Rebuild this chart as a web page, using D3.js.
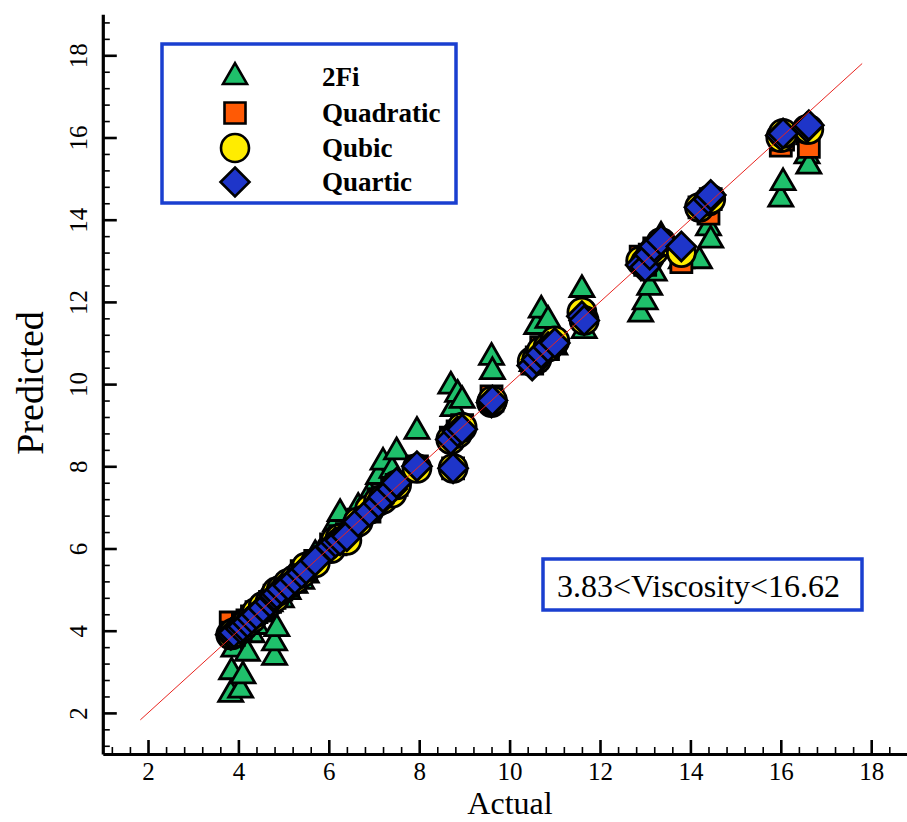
<!DOCTYPE html>
<html>
<head>
<meta charset="utf-8">
<script src="https://cdn.jsdelivr.net/npm/d3@7"></script>
<style>
  html, body { margin: 0; padding: 0; background: #fff; }
  svg { display: block; }
</style>
</head>
<body>
<svg id="chart" width="907" height="822"></svg>
<script>
// ---------------- data ----------------
const actual = [3.83, 3.85, 3.9, 4.05, 4.1, 4.2, 4.3, 4.4, 4.55, 4.7,
  4.8, 4.8, 4.85, 4.95, 5.1, 5.25, 5.4, 5.5, 5.7, 6.05,
  6.15, 6.25, 6.4, 6.65, 6.9, 7.1, 7.2, 7.4, 7.5, 7.95,
  8.7, 8.75, 8.85, 8.95, 9.6, 9.62, 10.5, 10.6, 10.7, 10.85,
  11.0, 11.6, 11.65, 12.9, 13.0, 13.1, 13.2, 13.35, 13.8, 14.2,
  14.4, 14.45, 16.0, 16.05, 16.58, 16.62];
const pred2Fi = [2.45, 3.0, 3.55, 2.55, 2.9, 3.45, 3.9, 4.1, 4.4, 4.65,
  3.35, 3.7, 4.05, 4.75, 4.95, 5.1, 5.2, 5.35, 5.85, 6.2,
  6.6, 6.85, 6.5, 7.0, 7.3, 7.75, 8.1, 7.9, 8.35, 8.85,
  9.95, 9.4, 9.75, 9.6, 10.65, 10.3, 10.5, 11.4, 11.8, 11.55,
  10.9, 12.3, 11.3, 11.7, 12.0, 12.35, 12.7, 13.6, 13.0, 13.0,
  13.8, 13.5, 14.5, 14.9, 15.55, 15.3];
const predQuadratic = [4.2, 3.95, 3.9, 4.0, 4.15, 4.25, 4.35, 4.45, 4.55, 4.7,
  4.8, 4.85, 4.9, 5.0, 5.1, 5.2, 5.45, 5.5, 5.7, 6.1,
  6.1, 6.3, 6.35, 6.7, 6.9, 7.2, 7.25, 7.45, 7.55, 8.0,
  8.7, 7.95, 8.85, 9.0, 9.7, 9.6, 10.5, 10.65, 10.9, 10.85,
  11.0, 11.7, 11.6, 13.1, 12.9, 13.15, 13.3, 13.4, 12.97, 14.3,
  14.15, 14.5, 15.8, 15.95, 16.1, 15.77];
const predQubic = [3.9, 3.9, 3.95, 4.05, 4.1, 4.2, 4.3, 4.45, 4.6, 4.7,
  4.85, 4.8, 4.95, 5.0, 5.15, 5.25, 5.4, 5.55, 5.65, 6.0,
  6.2, 6.25, 6.2, 6.65, 6.95, 7.15, 7.2, 7.35, 7.55, 7.95,
  8.65, 7.95, 8.8, 8.95, 9.55, 9.6, 10.55, 10.6, 10.8, 10.9,
  11.05, 11.75, 11.55, 13.0, 12.95, 13.1, 13.25, 13.45, 13.2, 14.3,
  14.45, 14.5, 16.0, 16.1, 16.2, 16.2];
const predQuartic = [3.9, 3.92, 3.95, 4.05, 4.1, 4.2, 4.3, 4.4, 4.55, 4.7,
  4.8, 4.85, 4.9, 5.0, 5.1, 5.25, 5.4, 5.5, 5.7, 6.05,
  6.15, 6.2, 6.3, 6.65, 6.9, 7.1, 7.25, 7.45, 7.6, 8.0,
  8.65, 7.95, 8.85, 8.9, 9.55, 9.6, 10.45, 10.6, 10.75, 10.9,
  11.0, 11.65, 11.55, 12.9, 12.85, 13.15, 13.35, 13.5, 13.35, 14.3,
  14.5, 14.6, 16.05, 16.1, 16.25, 16.3];
const seriesNames = ["2Fi", "Quadratic", "Qubic", "Quartic"];
const majorTicks = [2, 4, 6, 8, 10, 12, 14, 16, 18];
const axisDomain = [1, 19];
const fitLine = [1.83, 17.8];
const rangeLabel = "3.83<Viscosity<16.62";
const xTitle = "Actual";
const yTitle = "Predicted";

// ---------------- drawing ----------------
const svg = d3.select("#chart");
const W = 907, H = 822;
svg.append("rect").attr("width", W).attr("height", H).attr("fill", "#fff");

const x = d3.scaleLinear().domain(axisDomain).range([102.8, 916.4]);
const y = d3.scaleLinear().domain(axisDomain).range([754, 14.2]);

const minorTicks = d3.range(1.2, 18.81, 0.4).map(v => +v.toFixed(1))
  .filter(v => Math.abs(v - Math.round(v)) > 1e-6 || Math.round(v) % 2 !== 0);

const serif = "'Liberation Serif', 'Times New Roman', serif";

// minor ticks
const gxMinor = svg.append("g").attr("transform", `translate(0,${y(1)})`)
  .call(d3.axisBottom(x).tickValues(minorTicks).tickSize(-7).tickFormat(""));
const gyMinor = svg.append("g").attr("transform", `translate(${x(1)},0)`)
  .call(d3.axisLeft(y).tickValues(minorTicks).tickSize(-7).tickFormat(""));
[gxMinor, gyMinor].forEach(g => {
  g.select(".domain").remove();
  g.selectAll(".tick line").attr("stroke", "#000").attr("stroke-width", 1.6);
});

// major ticks
const gx = svg.append("g").attr("transform", `translate(0,${y(1)})`)
  .call(d3.axisBottom(x).tickValues(majorTicks).tickSize(-14).tickSizeOuter(0).tickFormat(d3.format("d")));
const gy = svg.append("g").attr("transform", `translate(${x(1)},0)`)
  .call(d3.axisLeft(y).tickValues(majorTicks).tickSize(-14).tickSizeOuter(0).tickFormat(d3.format("d")));
[gx, gy].forEach(g => {
  g.select(".domain").attr("stroke", "#000").attr("stroke-width", 3.2);
  g.selectAll(".tick line").attr("stroke", "#000").attr("stroke-width", 2.6);
  g.selectAll(".tick text").attr("fill", "#000").attr("font-family", serif).attr("font-size", 25);
});
gx.selectAll(".tick text").attr("y", 26).attr("dy", 0);
gy.selectAll(".tick text").attr("x", 0).attr("y", -16).attr("dy", 0)
  .attr("text-anchor", "middle").attr("transform", "rotate(-90)");

// axis titles
svg.append("text").attr("x", 510).attr("y", 814).attr("text-anchor", "middle")
  .attr("font-family", serif).attr("font-size", 32).attr("fill", "#000").text(xTitle);
svg.append("text").attr("transform", "translate(43,383) rotate(-90)").attr("text-anchor", "middle")
  .attr("font-family", serif).attr("font-size", 38).attr("fill", "#000").text(yTitle);

// marker shapes
const TRI = 24, SQ = 21, CR = 14, DI = 14.5;
function triPath(s) {
  const h = s * Math.sqrt(3) / 2;
  return `M0,${-2 * h / 3}L${s / 2},${h / 3}L${-s / 2},${h / 3}Z`;
}
function sqPath(s) { const a = s / 2; return `M${-a},${-a}H${a}V${a}H${-a}Z`; }
function diaPath(r) { return `M0,${-r}L${r},0L0,${r}L${-r},0Z`; }
const styles = [
  { fill: "#1fc06b", path: triPath(TRI) },
  { fill: "#ff5a05", path: sqPath(SQ) },
  { fill: "#ffec00", circle: CR },
  { fill: "#1e35c9", path: diaPath(DI) }
];
const preds = [pred2Fi, predQuadratic, predQubic, predQuartic];

preds.forEach((p, si) => {
  const st = styles[si];
  const data = actual.map((a, i) => [a, p[i]]);
  const g = svg.append("g");
  if (st.circle) {
    g.selectAll("circle").data(data).join("circle")
      .attr("cx", d => x(d[0])).attr("cy", d => y(d[1])).attr("r", st.circle)
      .attr("fill", st.fill).attr("stroke", "#000").attr("stroke-width", 2.8);
  } else {
    g.selectAll("path").data(data).join("path")
      .attr("transform", d => `translate(${x(d[0])},${y(d[1])})`).attr("d", st.path)
      .attr("fill", st.fill).attr("stroke", "#000").attr("stroke-width", 2.8)
      .attr("stroke-linejoin", "miter");
  }
});

// y = x reference line
svg.append("line")
  .attr("x1", x(fitLine[0])).attr("y1", y(fitLine[0]))
  .attr("x2", x(fitLine[1])).attr("y2", y(fitLine[1]))
  .attr("stroke", "#e8241f").attr("stroke-width", 1);

// legend
const blue = "#1a3fd0";
svg.append("rect").attr("x", 162).attr("y", 44).attr("width", 294).attr("height", 159)
  .attr("fill", "#fff").attr("stroke", blue).attr("stroke-width", 3.5);
const rowY = [77, 113, 148, 182];
seriesNames.forEach((name, i) => {
  const st = styles[i];
  if (st.circle) {
    svg.append("circle").attr("cx", 235).attr("cy", rowY[i]).attr("r", st.circle)
      .attr("fill", st.fill).attr("stroke", "#000").attr("stroke-width", 2.6);
  } else {
    svg.append("path").attr("transform", `translate(235,${rowY[i]})`).attr("d", st.path)
      .attr("fill", st.fill).attr("stroke", "#000").attr("stroke-width", 2.6);
  }
  svg.append("text").attr("x", 322).attr("y", rowY[i] + 9)
    .attr("font-family", serif).attr("font-weight", "bold").attr("font-size", 27)
    .attr("fill", "#000").text(name);
});

// range annotation
svg.append("rect").attr("x", 543).attr("y", 559).attr("width", 319).attr("height", 51)
  .attr("fill", "#fff").attr("stroke", blue).attr("stroke-width", 3.5);
svg.append("text").attr("x", 557).attr("y", 597)
  .attr("font-family", serif).attr("font-size", 32).attr("fill", "#000").text(rangeLabel);
</script>
</body>
</html>
